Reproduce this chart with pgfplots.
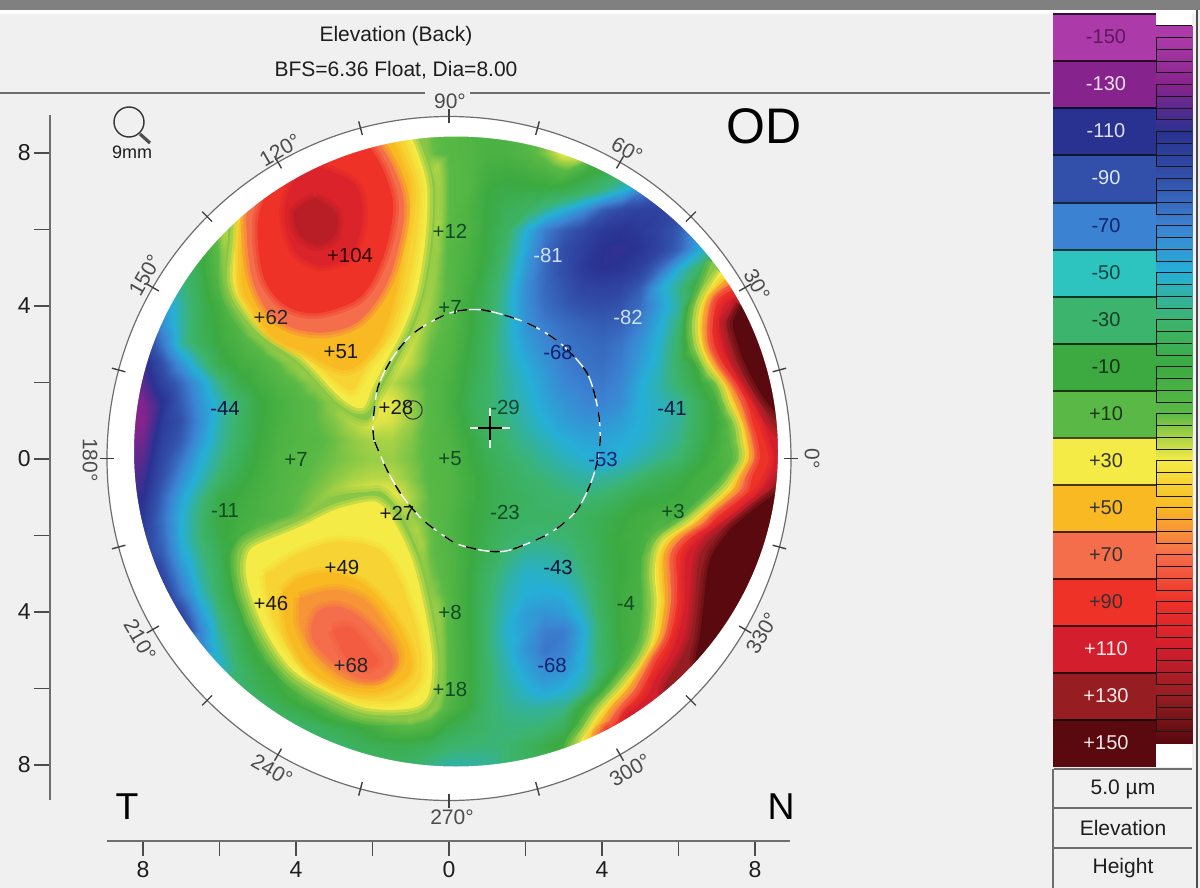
\documentclass[border=0pt]{standalone}
\usepackage{fontspec}
\setmainfont{Liberation Sans}
\usepackage{pgfplots}
\pgfplotsset{compat=1.18}

% one picture pixel is 0.5pt; the map grid has 0.5 mm steps, 38.25 px per mm
\definecolor{bgc}{RGB}{240,240,240}
\definecolor{ringc}{RGB}{110,110,110}
\definecolor{textc}{RGB}{30,30,30}
\definecolor{dgreen}{RGB}{15,75,35}
\definecolor{dblue}{RGB}{15,35,110}
\definecolor{lblue}{RGB}{205,225,250}

\definecolor{L1}{RGB}{172,58,168}
\definecolor{L2}{RGB}{135,35,140}
\definecolor{L3}{RGB}{42,50,145}
\definecolor{L4}{RGB}{50,80,170}
\definecolor{L5}{RGB}{60,130,210}
\definecolor{L6}{RGB}{45,195,190}
\definecolor{L7}{RGB}{60,180,110}
\definecolor{L8}{RGB}{60,170,65}
\definecolor{L9}{RGB}{90,185,70}
\definecolor{L10}{RGB}{245,235,70}
\definecolor{L11}{RGB}{248,185,35}
\definecolor{L12}{RGB}{245,110,75}
\definecolor{L13}{RGB}{238,50,40}
\definecolor{L14}{RGB}{210,30,45}
\definecolor{L15}{RGB}{150,30,35}
\definecolor{L16}{RGB}{90,10,15}
% in-between levels of the map
\definecolor{M15}{RGB}{135,198,70}
\definecolor{M40}{RGB}{247,212,52}
\definecolor{M60}{RGB}{246,148,55}
\definecolor{M76}{RGB}{243,92,65}
\definecolor{M105}{RGB}{218,35,42}
\definecolor{M125}{RGB}{185,30,38}

\pgfplotsset{colormap={elev}{
  rgb255=(172,58,168) rgb255=(135,35,140) rgb255=(42,50,145) rgb255=(50,80,170)
  rgb255=(60,130,210) rgb255=(38,175,215) rgb255=(60,180,110) rgb255=(60,170,65)
  rgb255=(90,185,70) rgb255=(245,235,70) rgb255=(248,185,35) rgb255=(245,110,75)
  rgb255=(238,50,40) rgb255=(210,30,45) rgb255=(150,30,35) rgb255=(90,10,15)}}

\newcommand\fs[1]{\fontsize{#1}{#1}\selectfont}
\newcommand\lab[4]{\node[text=#4,inner sep=0pt,font=\fs{10.2}] at (#1,#2) {#3};}
\newcommand\deglab[4]{\node[text=black!70,inner sep=0pt,rotate=#3,font=\fs{10.5}] at (#1,#2) {#4°};}
% a level outline; the two wide, faint strokes soften its edge
\newcommand\band[2]{\addplot[
    preaction={draw=#1,draw opacity=.3,line width=6pt},
    preaction={draw=#1,draw opacity=.4,line width=3pt},
    fill=#1,draw=none,smooth,tension=.55] coordinates {#2};}
\newcommand\legrow[4]{%
  \addplot[fill=#2,draw=none] coordinates {(1053,#1) (1156,#1) (1156,#1+47) (1053,#1+47)} --cycle;
  \addplot[black!70!#2,line width=.6pt] coordinates {(1053,#1) (1156,#1)};
  \node[text=#4,inner sep=0pt,font=\fs{10}] at (1106,#1+23) {#3};}

\begin{document}
\begin{tikzpicture}
\begin{axis}[
  at={(0,0)},anchor=south west,scale only axis,
  width=600pt,height=444pt,
  xmin=0,xmax=1200,ymin=0,ymax=888,y dir=reverse,
  axis lines=none,
  colormap name=elev,point meta min=-150,point meta max=150,
  every axis plot/.append style={forget plot}
]
% window
\addplot[fill=bgc,draw=none] coordinates {(0,0) (1200,0) (1200,888) (0,888)} --cycle;
\addplot[fill=gray,draw=none] coordinates {(0,0) (1200,0) (1200,10) (0,10)} --cycle;
\addplot[fill=white,draw=none] coordinates {(0,10) (1197,10) (1197,14) (0,14)} --cycle;
\node[text=textc,inner sep=0pt,font=\fs{10.5}] at (396,36) {Elevation (Back)};
\node[text=textc,inner sep=0pt,font=\fs{10.5}] at (396,70) {BFS=6.36 Float, Dia=8.00};

% elevation in microns, rows from y=+9 mm down to -9 mm, x from -9 mm to +9 mm
\addplot[surf,shader=interp,mesh/cols=37,point meta=explicit]
  table[header=false,row sep=crcr,
    x expr={104.75+19.125*mod(\coordindex,37)},
    y expr={114.75+19.125*floor(\coordindex/37)},
    meta index=0] {
0\\ 0\\ 0\\ 0\\ 0\\ 0\\ 0\\ 0\\ 0\\ 0\\ 0\\ 0\\ 0\\ 0\\ 0\\ 0\\ 0\\ 0\\ 0\\ 0\\ 0\\ 0\\ 0\\ 0\\ 0\\ 0\\ 0\\ 0\\ 0\\ 0\\ 0\\ 0\\ 0\\ 0\\ 0\\ 0\\ 0\\
0\\ 0\\ 0\\ 0\\ 0\\ 0\\ 0\\ 0\\ 0\\ 0\\ 0\\ 0\\ 70\\ 72\\ 62\\ 50\\ 28\\ 12\\ 8\\ 5\\ 0\\ 0\\ 5\\ 15\\ 30\\ 30\\ 0\\ 0\\ 0\\ 0\\ 0\\ 0\\ 0\\ 0\\ 0\\ 0\\ 0\\
70\\ 70\\ 70\\ 70\\ 70\\ 70\\ 70\\ 70\\ 70\\ 70\\ 70\\ 75\\ 72\\ 72\\ 62\\ 48\\ 26\\ 12\\ 8\\ 5\\ 0\\ 0\\ 5\\ 15\\ 30\\ 30\\ -10\\ -20\\ -20\\ -20\\ -20\\ -20\\ -20\\ -20\\ -20\\ -20\\ -20\\
85\\ 85\\ 85\\ 85\\ 85\\ 85\\ 85\\ 85\\ 85\\ 85\\ 90\\ 95\\ 100\\ 100\\ 90\\ 75\\ 48\\ 28\\ 10\\ 5\\ -5\\ -8\\ -5\\ 0\\ 8\\ -5\\ -15\\ -25\\ -30\\ -30\\ -30\\ -30\\ -30\\ -30\\ -30\\ -30\\ -30\\
70\\ 70\\ 70\\ 70\\ 70\\ 70\\ 70\\ 70\\ 75\\ 85\\ 100\\ 110\\ 112\\ 108\\ 98\\ 82\\ 48\\ 30\\ 10\\ 5\\ -10\\ -15\\ -15\\ -15\\ -18\\ -25\\ -35\\ -48\\ -70\\ -80\\ -80\\ -80\\ -80\\ -80\\ -80\\ -80\\ -80\\
55\\ 55\\ 55\\ 55\\ 55\\ 55\\ 55\\ 60\\ 75\\ 90\\ 108\\ 122\\ 118\\ 110\\ 100\\ 85\\ 50\\ 30\\ 10\\ 2\\ -12\\ -20\\ -25\\ -38\\ -50\\ -65\\ -85\\ -95\\ -100\\ -100\\ -95\\ -90\\ -90\\ -90\\ -90\\ -90\\ -90\\
15\\ 15\\ 15\\ 15\\ 15\\ 15\\ 15\\ 50\\ 78\\ 95\\ 112\\ 125\\ 120\\ 108\\ 98\\ 82\\ 50\\ 30\\ 8\\ 2\\ -12\\ -25\\ -50\\ -72\\ -85\\ -95\\ -105\\ -108\\ -105\\ -98\\ -85\\ -60\\ -50\\ -50\\ -50\\ -50\\ -50\\
-15\\ -15\\ -15\\ -15\\ -15\\ -12\\ 12\\ 42\\ 72\\ 92\\ 105\\ 112\\ 110\\ 100\\ 88\\ 72\\ 42\\ 25\\ 8\\ 0\\ -12\\ -30\\ -55\\ -78\\ -92\\ -102\\ -110\\ -112\\ -108\\ -98\\ -82\\ -55\\ -30\\ -20\\ -20\\ -20\\ -20\\
-35\\ -35\\ -35\\ -35\\ -30\\ -15\\ 10\\ 40\\ 70\\ 88\\ 98\\ 100\\ 98\\ 92\\ 80\\ 65\\ 38\\ 22\\ 8\\ -2\\ -15\\ -35\\ -60\\ -80\\ -92\\ -105\\ -110\\ -108\\ -100\\ -80\\ -50\\ -28\\ 5\\ 90\\ 130\\ 130\\ 130\\
-50\\ -50\\ -50\\ -45\\ -35\\ -18\\ 5\\ 35\\ 65\\ 85\\ 92\\ 92\\ 90\\ 85\\ 75\\ 60\\ 35\\ 20\\ 8\\ -5\\ -20\\ -40\\ -65\\ -80\\ -88\\ -98\\ -100\\ -98\\ -85\\ -55\\ -35\\ -10\\ 90\\ 150\\ 150\\ 150\\ 150\\
-65\\ -65\\ -65\\ -60\\ -40\\ -20\\ -5\\ 15\\ 50\\ 72\\ 82\\ 85\\ 85\\ 80\\ 72\\ 55\\ 32\\ 18\\ 7\\ -8\\ -22\\ -42\\ -65\\ -78\\ -85\\ -90\\ -92\\ -88\\ -78\\ -58\\ -38\\ 25\\ 100\\ 150\\ 150\\ 150\\ 150\\
-95\\ -95\\ -90\\ -65\\ -40\\ -20\\ -8\\ 5\\ 25\\ 48\\ 68\\ 72\\ 75\\ 72\\ 62\\ 45\\ 28\\ 15\\ 7\\ -8\\ -22\\ -42\\ -62\\ -72\\ -78\\ -82\\ -85\\ -82\\ -70\\ -52\\ -30\\ 30\\ 100\\ 150\\ 150\\ 150\\ 150\\
-110\\ -110\\ -105\\ -75\\ -40\\ -22\\ -10\\ 0\\ 10\\ 25\\ 38\\ 50\\ 58\\ 58\\ 50\\ 38\\ 25\\ 12\\ 5\\ -10\\ -25\\ -42\\ -58\\ -68\\ -75\\ -78\\ -80\\ -75\\ -62\\ -48\\ -25\\ 25\\ 95\\ 140\\ 150\\ 150\\ 150\\
-125\\ -125\\ -115\\ -90\\ -62\\ -38\\ -15\\ -5\\ 0\\ 10\\ 20\\ 32\\ 45\\ 48\\ 40\\ 30\\ 22\\ 10\\ 3\\ -12\\ -25\\ -40\\ -52\\ -62\\ -72\\ -76\\ -78\\ -72\\ -58\\ -45\\ -25\\ -5\\ 55\\ 105\\ 145\\ 150\\ 150\\
-125\\ -125\\ -120\\ -100\\ -80\\ -58\\ -35\\ -15\\ -5\\ 3\\ 10\\ 18\\ 28\\ 32\\ 30\\ 22\\ 15\\ 8\\ 0\\ -15\\ -28\\ -38\\ -48\\ -58\\ -68\\ -72\\ -74\\ -68\\ -52\\ -42\\ -28\\ -12\\ 10\\ 75\\ 135\\ 150\\ 150\\
-130\\ -130\\ -128\\ -110\\ -85\\ -62\\ -44\\ -28\\ -12\\ -3\\ 5\\ 10\\ 18\\ 28\\ 30\\ 28\\ 18\\ 8\\ -2\\ -18\\ -28\\ -38\\ -45\\ -55\\ -62\\ -68\\ -70\\ -65\\ -50\\ -45\\ -38\\ -22\\ -5\\ 40\\ 115\\ 150\\ 150\\
-130\\ -130\\ -130\\ -105\\ -90\\ -65\\ -42\\ -26\\ -12\\ -2\\ 5\\ 10\\ 15\\ 22\\ 28\\ 26\\ 18\\ 8\\ 0\\ -15\\ -26\\ -33\\ -42\\ -50\\ -58\\ -62\\ -62\\ -58\\ -50\\ -45\\ -38\\ -22\\ -8\\ 18\\ 95\\ 125\\ 130\\
-128\\ -128\\ -125\\ -100\\ -85\\ -60\\ -40\\ -24\\ -10\\ 0\\ 5\\ 8\\ 12\\ 17\\ 20\\ 20\\ 15\\ 8\\ 3\\ -10\\ -22\\ -30\\ -38\\ -44\\ -50\\ -55\\ -55\\ -52\\ -48\\ -42\\ -35\\ -20\\ -5\\ 12\\ 85\\ 115\\ 120\\
-122\\ -122\\ -120\\ -95\\ -75\\ -52\\ -35\\ -20\\ -8\\ 2\\ 7\\ 10\\ 13\\ 16\\ 18\\ 18\\ 14\\ 8\\ 5\\ -8\\ -18\\ -26\\ -32\\ -38\\ -44\\ -48\\ -53\\ -48\\ -42\\ -35\\ -28\\ -15\\ -2\\ 8\\ 65\\ 105\\ 120\\
-120\\ -120\\ -115\\ -90\\ -65\\ -45\\ -28\\ -15\\ -5\\ 3\\ 8\\ 12\\ 16\\ 20\\ 22\\ 22\\ 16\\ 8\\ 5\\ -5\\ -15\\ -22\\ -28\\ -32\\ -36\\ -40\\ -38\\ -35\\ -28\\ -20\\ -14\\ -5\\ -2\\ 30\\ 100\\ 130\\ 150\\
-120\\ -115\\ -110\\ -82\\ -55\\ -35\\ -15\\ -8\\ -2\\ 5\\ 10\\ 15\\ 22\\ 28\\ 32\\ 30\\ 20\\ 10\\ 5\\ -5\\ -15\\ -20\\ -24\\ -28\\ -30\\ -32\\ -28\\ -22\\ -14\\ -12\\ -8\\ -3\\ 18\\ 60\\ 105\\ 150\\ 150\\
-115\\ -110\\ -105\\ -78\\ -50\\ -30\\ -11\\ -5\\ 0\\ 5\\ 12\\ 22\\ 30\\ 32\\ 33\\ 30\\ 18\\ 10\\ 3\\ -8\\ -15\\ -23\\ -26\\ -26\\ -26\\ -22\\ -18\\ -12\\ -6\\ -2\\ -3\\ 22\\ 85\\ 110\\ 135\\ 150\\ 150\\
-105\\ -105\\ -102\\ -80\\ -50\\ -30\\ -14\\ -2\\ 15\\ 30\\ 36\\ 38\\ 38\\ 38\\ 36\\ 33\\ 25\\ 12\\ 4\\ -8\\ -18\\ -26\\ -30\\ -32\\ -30\\ -24\\ -16\\ -8\\ -4\\ 8\\ 55\\ 95\\ 120\\ 150\\ 150\\ 150\\ 150\\
-105\\ -105\\ -100\\ -85\\ -55\\ -35\\ -20\\ 8\\ 32\\ 36\\ 40\\ 45\\ 46\\ 46\\ 44\\ 40\\ 30\\ 12\\ 5\\ -8\\ -20\\ -32\\ -40\\ -40\\ -36\\ -28\\ -16\\ -10\\ -3\\ 35\\ 90\\ 112\\ 150\\ 150\\ 150\\ 150\\ 150\\
-120\\ -120\\ -120\\ -95\\ -65\\ -40\\ -22\\ 2\\ 30\\ 38\\ 46\\ 52\\ 52\\ 52\\ 50\\ 44\\ 32\\ 14\\ 5\\ -10\\ -25\\ -38\\ -48\\ -46\\ -42\\ -32\\ -18\\ -10\\ -2\\ 40\\ 95\\ 115\\ 150\\ 150\\ 150\\ 150\\ 150\\
-120\\ -120\\ -120\\ -105\\ -75\\ -45\\ -25\\ -2\\ 25\\ 42\\ 50\\ 55\\ 58\\ 60\\ 58\\ 50\\ 36\\ 18\\ 6\\ -10\\ -28\\ -42\\ -50\\ -52\\ -50\\ -38\\ -20\\ -8\\ -1\\ 35\\ 100\\ 118\\ 150\\ 150\\ 150\\ 150\\ 150\\
-120\\ -120\\ -120\\ -120\\ -95\\ -58\\ -32\\ -12\\ 22\\ 38\\ 48\\ 58\\ 68\\ 70\\ 68\\ 55\\ 40\\ 25\\ 8\\ -10\\ -30\\ -45\\ -58\\ -62\\ -58\\ -44\\ -22\\ -8\\ 0\\ 30\\ 95\\ 125\\ 150\\ 150\\ 150\\ 150\\ 150\\
-110\\ -110\\ -110\\ -110\\ -110\\ -70\\ -38\\ -18\\ 0\\ 32\\ 42\\ 68\\ 74\\ 78\\ 76\\ 62\\ 45\\ 28\\ 8\\ -10\\ -30\\ -48\\ -58\\ -72\\ -72\\ -52\\ -25\\ -8\\ 2\\ 50\\ 110\\ 150\\ 150\\ 150\\ 150\\ 150\\ 150\\
-70\\ -70\\ -70\\ -70\\ -70\\ -70\\ -45\\ -22\\ -5\\ 15\\ 35\\ 55\\ 72\\ 78\\ 78\\ 68\\ 48\\ 30\\ 8\\ -8\\ -30\\ -45\\ -62\\ -75\\ -70\\ -50\\ -25\\ -10\\ 8\\ 80\\ 118\\ 148\\ 150\\ 150\\ 150\\ 150\\ 150\\
-50\\ -50\\ -50\\ -50\\ -50\\ -50\\ -50\\ -28\\ -15\\ -5\\ 18\\ 35\\ 50\\ 70\\ 72\\ 62\\ 42\\ 30\\ 8\\ -8\\ -28\\ -42\\ -55\\ -66\\ -62\\ -48\\ -28\\ -2\\ 32\\ 100\\ 135\\ 150\\ 150\\ 150\\ 150\\ 150\\ 150\\
-30\\ -30\\ -30\\ -30\\ -30\\ -30\\ -30\\ -30\\ -20\\ -12\\ 2\\ 22\\ 35\\ 48\\ 55\\ 50\\ 38\\ 28\\ 8\\ -8\\ -28\\ -38\\ -48\\ -55\\ -50\\ -40\\ -8\\ 35\\ 90\\ 125\\ 150\\ 150\\ 150\\ 150\\ 150\\ 150\\ 150\\
-30\\ -30\\ -30\\ -30\\ -30\\ -30\\ -30\\ -30\\ -30\\ -22\\ -15\\ -5\\ 8\\ 22\\ 32\\ 35\\ 32\\ 24\\ 3\\ -10\\ -28\\ -35\\ -38\\ -38\\ -35\\ -5\\ 28\\ 85\\ 125\\ 130\\ 130\\ 130\\ 130\\ 130\\ 130\\ 130\\ 130\\
-30\\ -30\\ -30\\ -30\\ -30\\ -30\\ -30\\ -30\\ -30\\ -30\\ -30\\ -25\\ -18\\ -12\\ -5\\ 5\\ 8\\ 2\\ -15\\ -22\\ -28\\ -32\\ -32\\ -30\\ -20\\ 5\\ 70\\ 120\\ 120\\ 120\\ 120\\ 120\\ 120\\ 120\\ 120\\ 120\\ 120\\
-30\\ -30\\ -30\\ -30\\ -30\\ -30\\ -30\\ -30\\ -30\\ -30\\ -30\\ -30\\ -30\\ -25\\ -20\\ -18\\ -18\\ -22\\ -28\\ -30\\ -32\\ -30\\ -24\\ -15\\ -5\\ 30\\ 70\\ 70\\ 70\\ 70\\ 70\\ 70\\ 70\\ 70\\ 70\\ 70\\ 70\\
-25\\ -25\\ -25\\ -25\\ -25\\ -25\\ -25\\ -25\\ -25\\ -25\\ -25\\ -25\\ -25\\ -25\\ -25\\ -25\\ -28\\ -35\\ -40\\ -40\\ -38\\ -30\\ -25\\ -25\\ -25\\ -25\\ -25\\ -25\\ -25\\ -25\\ -25\\ -25\\ -25\\ -25\\ -25\\ -25\\ -25\\
-30\\ -30\\ -30\\ -30\\ -30\\ -30\\ -30\\ -30\\ -30\\ -30\\ -30\\ -30\\ -30\\ -30\\ -30\\ -30\\ -30\\ -30\\ -30\\ -30\\ -30\\ -30\\ -30\\ -30\\ -30\\ -30\\ -30\\ -30\\ -30\\ -30\\ -30\\ -30\\ -30\\ -30\\ -30\\ -30\\ -30\\
-30\\ -30\\ -30\\ -30\\ -30\\ -30\\ -30\\ -30\\ -30\\ -30\\ -30\\ -30\\ -30\\ -30\\ -30\\ -30\\ -30\\ -30\\ -30\\ -30\\ -30\\ -30\\ -30\\ -30\\ -30\\ -30\\ -30\\ -30\\ -30\\ -30\\ -30\\ -30\\ -30\\ -30\\ -30\\ -30\\ -30\\
};

% level outlines of the steep rim on the nasal side
\band{M15}{(712,262)(697,300)(692,323)(694,344)(702,363)(717,383)(724,402)(734,423)(736,440)(739,459)(728,478)(715,493)(690,516)(675,527)(656,540)(649,555)(647,575)(649,603)(645,637)(635,660)(620,680)(610,693)(596,708)(583,727)(570,750)(590,785)(795,785)(795,240)(725,240)}
\band{L10}{(720,272)(703,300)(698,323)(700,344)(708,363)(723,383)(730,402)(740,423)(743,440)(745,459)(735,478)(723,493)(697,516)(683,527)(664,540)(657,555)(655,575)(657,603)(653,637)(643,660)(628,680)(617,693)(603,708)(590,727)(580,750)(600,785)(795,785)(795,240)(732,240)}
\band{L11}{(725,280)(708,300)(703,323)(705,344)(713,363)(727,383)(735,402)(744,423)(748,440)(749,459)(739,478)(730,493)(704,516)(692,527)(672,540)(663,555)(662,575)(664,603)(659,637)(647,660)(634,680)(624,693)(610,708)(597,727)(590,745)(610,785)(795,785)(795,240)(738,240)}
\band{L12}{(729,285)(713,300)(708,323)(709,344)(718,363)(732,383)(741,402)(749,423)(753,440)(755,459)(745,478)(738,493)(712,516)(700,527)(680,540)(670,555)(670,575)(671,603)(665,637)(652,660)(640,680)(632,693)(618,708)(605,727)(598,738)(620,785)(795,785)(795,240)(742,240)}
\band{L13}{(733,290)(718,300)(713,323)(714,344)(723,363)(737,383)(747,402)(753,423)(758,440)(760,459)(752,478)(747,493)(718,516)(708,527)(688,540)(677,555)(677,575)(677,603)(670,637)(657,660)(647,680)(640,693)(627,708)(613,727)(607,733)(630,785)(795,785)(795,240)(746,240)}
\band{L14}{(736,297)(725,305)(719,323)(722,344)(730,363)(743,383)(754,402)(764,423)(770,440)(775,459)(768,478)(758,493)(730,516)(716,527)(698,540)(687,555)(685,575)(685,603)(678,637)(668,660)(655,680)(650,693)(637,708)(625,722)(640,785)(795,785)(795,240)(750,240)}
\band{L15}{(739,302)(731,315)(726,323)(730,344)(737,363)(748,383)(760,402)(772,423)(785,436)(795,420)(795,290)(745,290)}
\band{L15}{(785,474)(778,478)(768,493)(741,516)(725,527)(710,540)(700,555)(697,575)(695,603)(690,637)(680,660)(668,680)(664,693)(670,720)(795,720)(795,474)}
\band{L16}{(741,306)(733,323)(738,344)(745,363)(755,383)(767,402)(785,420)(795,410)(795,295)(750,295)}
\band{L16}{(785,488)(777,493)(757,507)(733,527)(722,540)(712,555)(707,575)(704,603)(700,637)(696,662)(710,690)(795,690)(795,488)}

% level outlines of the upper temporal hill
\band{M15}{(420,122)(430,165)(435,190)(433,240)(425,290)(412,330)(390,373)(377,397)(367,420)(340,407)(300,367)(257,338)(233,307)(225,280)(228,240)(232,215)(260,165)(340,115)(420,122)}
\band{L10}{(405,122)(420,160)(427,190)(425,240)(417,290)(404,327)(384,365)(372,388)(362,408)(340,397)(303,358)(262,328)(240,300)(233,278)(236,240)(240,212)(265,165)(340,118)(405,122)}
\band{M40}{(397,125)(412,162)(419,190)(416,240)(405,296)(391,335)(366,368)(353,390)(340,384)(305,356)(268,333)(245,302)(238,283)(239,240)(243,212)(268,165)(340,119)(397,125)}
\band{L11}{(385,125)(402,163)(410,190)(405,240)(393,303)(377,343)(347,370)(307,353)(273,337)(250,303)(243,287)(241,240)(246,212)(270,165)(340,120)(385,125)}
\band{L12}{(377,140)(393,167)(403,197)(402,230)(387,283)(360,320)(327,332)(293,328)(267,310)(252,277)(247,233)(250,205)(280,150)(350,125)(377,140)}
\band{L13}{(365,140)(383,170)(393,207)(383,257)(360,297)(317,313)(285,305)(265,280)(258,240)(262,205)(290,155)(350,130)(365,140)}
\band{M105}{(320,168)(355,185)(362,220)(350,255)(320,265)(295,250)(285,215)(295,180)(320,168)}
\band{M125}{(315,198)(335,212)(335,235)(318,245)(300,235)(295,212)(315,198)}

% level outlines of the lower temporal hill
\band{M15}{(237,557)(247,540)(300,517)(333,497)(367,492)(383,493)(400,513)(420,557)(433,610)(440,660)(437,700)(417,717)(367,718)(327,703)(287,677)(260,640)(243,600)(237,573)(237,557)}
\band{L10}{(247,558)(255,546)(300,527)(335,510)(367,502)(380,504)(393,520)(412,560)(425,612)(432,660)(428,695)(412,708)(368,708)(332,694)(293,670)(268,635)(252,598)(246,572)(247,558)}
\band{M40}{(265,575)(300,553)(335,542)(367,545)(385,555)(402,585)(417,632)(422,665)(417,685)(395,700)(355,698)(320,680)(290,650)(272,615)(265,575)}
\band{L11}{(283,593)(300,578)(333,573)(367,587)(393,617)(410,653)(407,677)(377,692)(340,687)(307,667)(287,630)(283,593)}
\band{M60}{(300,598)(335,590)(365,600)(385,625)(398,652)(395,668)(375,682)(343,678)(315,655)(300,625)(300,598)}
\band{L12}{(312,623)(320,610)(340,607)(363,620)(387,647)(393,663)(380,678)(357,677)(330,660)(313,640)(312,623)}
\band{M76}{(333,630)(350,627)(370,650)(378,662)(365,668)(345,655)(333,630)}

% white ring and window colour round the map
\fill[white,even odd rule] (96,106) rectangle (835,838) (456,451.5) ellipse [x radius=161pt,y radius=157.5pt];
\fill[bgc,even odd rule] (90,100) rectangle (840,839) (449,458.5) circle [radius=171pt];
\draw[ringc,line width=.6pt] (449,458.5) circle [radius=171pt];
\addplot[ringc,line width=.6pt] coordinates {(0,93) (425,93)};
\addplot[ringc,line width=.6pt] coordinates {(470,93) (1050,93)};
\pgfplotsinvokeforeach{0,15,...,345}{
  \draw[black!75,line width=.7pt] ({449+335*cos(#1)},{458.5-335*sin(#1)}) -- ({449+349*cos(#1)},{458.5-349*sin(#1)});
}

% measuring circle
\addplot[white,line width=.7pt,dash pattern=on 7pt off 3pt,smooth] coordinates {
  (374,440) (373,423) (378,387) (393,357) (415,332) (450,313) (483,310) (527,323)
  (560,343) (587,373) (598,410) (600,443) (593,477) (577,510) (550,533) (510,550)
  (487,551) (460,545) (447,538) (423,520) (403,497) (387,470) (374,440)};
\addplot[black,line width=.7pt,dash pattern=on 5pt off 7pt,smooth] coordinates {
  (374,440) (373,423) (378,387) (393,357) (415,332) (450,313) (483,310) (527,323)
  (560,343) (587,373) (598,410) (600,443) (593,477) (577,510) (550,533) (510,550)
  (487,551) (460,545) (447,538) (423,520) (403,497) (387,470) (374,440)};

% apex cross and pupil centre
\addplot[white!85!gray,line width=.6pt] coordinates {(470,428) (510,428)};
\addplot[white!85!gray,line width=.6pt] coordinates {(490,408) (490,448)};
\addplot[black,line width=.7pt] coordinates {(478,428) (502,428)};
\addplot[black,line width=.7pt] coordinates {(490,416) (490,440)};
\draw[black!80,line width=.5pt] (413,410) circle [radius=4.6pt];

% elevation labels
\lab{450}{231}{+12}{dgreen}
\lab{450}{307}{+7}{dgreen}
\lab{350}{255}{+104}{black!80!red}
\lab{271}{317}{+62}{black!85}
\lab{341}{352}{+51}{black!90}
\lab{396}{407}{+28}{black!90}
\lab{225}{408}{-44}{dblue!60!black}
\lab{296}{459}{+7}{dgreen}
\lab{450}{459}{+5}{dgreen}
\lab{225}{510}{-11}{dgreen}
\lab{397}{513}{+27}{black!90}
\lab{342}{567}{+49}{black!90}
\lab{271}{603}{+46}{black!90}
\lab{450}{612}{+8}{dgreen}
\lab{351}{665}{+68}{black!85}
\lab{450}{689}{+18}{dgreen}
\lab{548}{255}{-81}{lblue}
\lab{628}{317}{-82}{lblue}
\lab{558}{352}{-68}{dblue}
\lab{505}{407}{-29}{dgreen}
\lab{672}{408}{-41}{dblue!60!black}
\lab{603}{459}{-53}{dblue}
\lab{505}{512}{-23}{dgreen}
\lab{673}{511}{+3}{dgreen}
\lab{558}{567}{-43}{dblue!60!black}
\lab{626}{603}{-4}{dgreen}
\lab{552}{665}{-68}{dblue}

% degree labels
\deglab{450}{101}{0}{90}
\deglab{627}{150}{-30}{60}
\deglab{757}{285}{-60}{30}
\deglab{812}{459}{-90}{0}
\deglab{762}{633}{60}{330}
\deglab{630}{770}{30}{300}
\deglab{452}{817}{0}{270}
\deglab{272}{770}{-30}{240}
\deglab{140}{640}{-60}{210}
\deglab{90}{460}{-90}{180}
\deglab{145}{275}{60}{150}
\deglab{280}{150}{30}{120}

\node[text=black,inner sep=0pt,font=\fs{25}] at (764,126) {OD};
\node[text=black,inner sep=0pt,font=\fs{18.7}] at (127,807) {T};
\node[text=black,inner sep=0pt,font=\fs{18.7}] at (781,807) {N};

% magnifier
\draw[black!80,line width=.7pt] (129,122) circle [radius=7.5pt];
\draw[black!70,line width=1.6pt] (140,134) -- (150,143);
\node[text=textc,inner sep=0pt,font=\fs{9}] at (132,152) {9mm};

% colour key
\addplot[fill=white,draw=none] coordinates {(1156,14) (1192,14) (1192,767) (1156,767)} --cycle;
\addplot[surf,shader=interp,mesh/cols=2,point meta=explicit] table[meta index=2,row sep=crcr] {
x y c\\
1156 26 -150\\ 1192 26 -150\\
1156 38 -150\\ 1192 38 -150\\
1156 741 150\\ 1192 741 150\\
1156 743 150\\ 1192 743 150\\
};
\pgfplotsinvokeforeach{0,...,60}{
  \draw[black!90,line width=.5pt] (1156,{26+11.75*#1}) -- (1192,{26+11.75*#1});
}
\pgfplotsinvokeforeach{0,...,14}{
  \draw[black!90,line width=.6pt] (1156,{38+47*#1}) -- (1156,{73+47*#1});
}
\legrow{14}{L1}{-150}{L2!70!black}
\legrow{61}{L2}{-130}{white!85!L2}
\legrow{108}{L3}{-110}{white!85!L3}
\legrow{155}{L4}{-90}{white!85!L4}
\legrow{203}{L5}{-70}{dblue}
\legrow{250}{L6}{-50}{L6!35!black}
\legrow{297}{L7}{-30}{L7!35!black}
\legrow{344}{L8}{-10}{L8!30!black}
\legrow{391}{L9}{+10}{L9!30!black}
\legrow{438}{L10}{+30}{black!80}
\legrow{485}{L11}{+50}{black!80}
\legrow{532}{L12}{+70}{black!80}
\legrow{579}{L13}{+90}{black!80}
\legrow{626}{L14}{+110}{white!90!L14}
\legrow{673}{L15}{+130}{white!90!L15}
\legrow{720}{L16}{+150}{white!90!L16}

% cells below the key and window edge
\addplot[ringc,line width=.7pt] coordinates {(1053,769) (1053,888)};
\addplot[ringc,line width=.7pt] coordinates {(1054,769) (1192,769)};
\addplot[ringc,line width=.7pt] coordinates {(1054,808) (1192,808)};
\addplot[ringc,line width=.7pt] coordinates {(1054,848) (1192,848)};
\addplot[black!70,line width=.8pt] coordinates {(1197,10) (1197,888)};
\node[text=textc,inner sep=0pt,font=\fs{10.5}] at (1123,789) {5.0 µm};
\node[text=textc,inner sep=0pt,font=\fs{10.5}] at (1123,828) {Elevation};
\node[text=textc,inner sep=0pt,font=\fs{10.5}] at (1123,868) {Height};
\end{axis}

% bottom ruler in mm
\begin{axis}[
  at={(53.5pt,23.5pt)},anchor=south west,scale only axis,
  width=341.5pt,height=10pt,
  xmin=-8.941,xmax=8.915,ymin=0,ymax=1,
  axis x line=bottom,axis y line=none,
  axis line style={-,draw=ringc,line width=.6pt},
  tick style={draw=black!70,line width=.6pt},
  major tick length=7.5pt,tick align=outside,
  xtick={-8,-6,...,8},xticklabels={8,,4,,0,,4,,8},
  xticklabel style={inner sep=0pt,yshift=-2.7pt,font=\fs{11.5},text=textc},
  /pgf/number format/assume math mode=true
]
\addplot[draw=none] coordinates {(-8,0) (8,0)};
\end{axis}

% left ruler in mm
\begin{axis}[
  at={(25pt,44pt)},anchor=south west,scale only axis,
  width=10pt,height=342.5pt,
  xmin=0,xmax=1,ymin=-8.915,ymax=8.993,
  axis y line=left,axis x line=none,
  axis line style={-,draw=ringc,line width=.6pt},
  tick style={draw=black!70,line width=.6pt},
  major tick length=8pt,tick align=outside,
  ytick={-8,-6,...,8},yticklabels={8,,4,,0,,4,,8},
  yticklabel style={inner sep=0pt,xshift=-1.5pt,font=\fs{11.5},text=textc},
  /pgf/number format/assume math mode=true
]
\addplot[draw=none] coordinates {(0,-8) (0,8)};
\end{axis}
\end{tikzpicture}
\end{document}
